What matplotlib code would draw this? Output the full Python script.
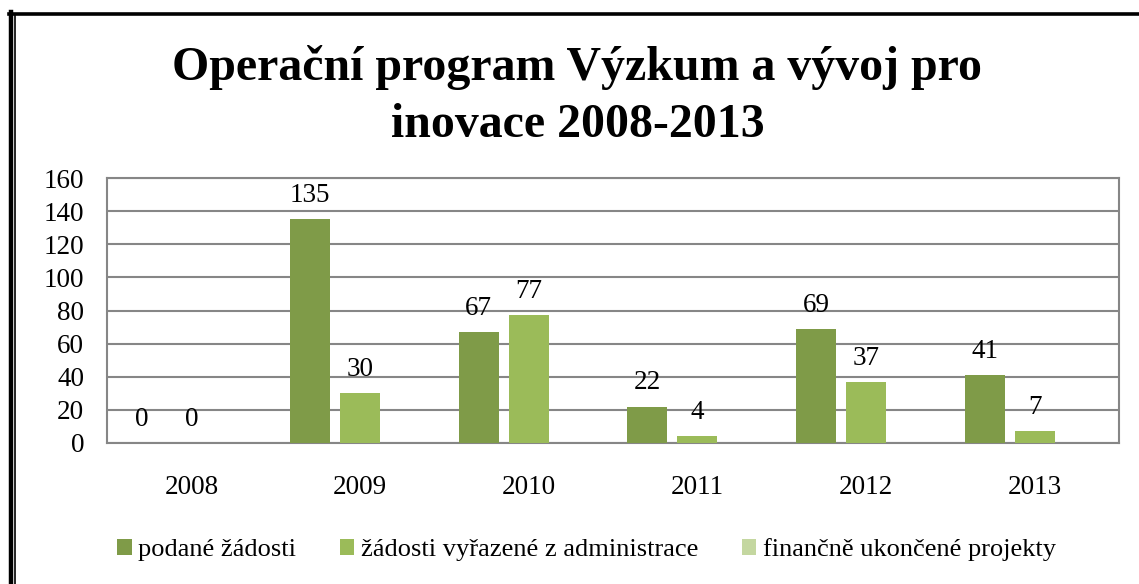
import numpy as np
import matplotlib
matplotlib.use('Agg')
import matplotlib.pyplot as plt
from matplotlib.lines import Line2D
from matplotlib.patches import Patch

years = ['2008', '2009', '2010', '2011', '2012', '2013']
podane = [0, 135, 67, 22, 69, 41]
vyrazene = [0, 30, 77, 4, 37, 7]
ukoncene = [np.nan] * 6  # no values shown in the chart

series_names = ['podané žádosti', 'žádosti vyřazené z administrace',
                'finančně ukončené projekty']
colors = ['#7F9B48', '#9BBB59', '#C4D7A0']
yticks = [0, 20, 40, 60, 80, 100, 120, 140, 160]
title_lines = ['Operační program Výzkum a vývoj pro', 'inovace 2008-2013']

plt.rcParams['font.family'] = ['Liberation Serif', 'DejaVu Serif']
FS = 19.5

W, H = 1139, 584
fig = plt.figure(figsize=(W / 100, H / 100), dpi=100)


def px(x0, y0, x1, y1):
    return [x0 / W, 1 - y1 / H, (x1 - x0) / W, (y1 - y0) / H]


ax = fig.add_axes(px(107, 178, 1119, 443))

x = np.arange(len(years))
slot = 0.296
bw = 0.237
all_series = [podane, vyrazene, ukoncene]
for i, (vals, c) in enumerate(zip(all_series, colors)):
    pos = x + (i - 1) * slot
    ax.bar(pos, vals, width=bw, color=c, zorder=3)
    for p, v in zip(pos, vals):
        if np.isnan(v):
            continue
        ax.annotate(f'{int(v)}', (p, v), xytext=(0, 8), textcoords='offset points',
                    ha='center', va='bottom', fontsize=FS, color='black')

ax.set_xlim(-0.5, len(years) - 0.5)
ax.set_ylim(0, 160)
ax.set_yticks(yticks)
ax.set_xticks(x)
ax.set_xticklabels(years)
ax.tick_params(axis='both', length=0, labelsize=FS)
ax.tick_params(axis='x', pad=23)
ax.tick_params(axis='y', pad=16.5)
ax.grid(axis='y', color='#868686', linewidth=1.5, zorder=0)
ax.set_axisbelow(True)
for sp in ax.spines.values():
    sp.set_color('#868686')
    sp.set_linewidth(1.5)

# two title lines placed on their own baselines
for line, base in zip(title_lines, [80, 137]):
    fig.text(0.507, 1 - base / H, line, ha='center', va='baseline',
             fontsize=34.5, fontweight='bold')

handles = [Patch(facecolor=c, edgecolor='none') for c in colors]
fig.legend(handles, series_names, loc='center', bbox_to_anchor=(0.515, 1 - 550 / H),
           ncol=3, frameon=False, fontsize=19, handlelength=0.55, handleheight=0.55,
           handletextpad=0.25, columnspacing=1.65)

# page frame (double line on the left, thick on top)
fig.add_artist(Line2D([11 / W, 11 / W], [0, 1 - 12 / H], color='black', linewidth=3.2))
fig.add_artist(Line2D([15.3 / W, 15.3 / W], [0, 1 - 15 / H], color='black', linewidth=1.2))
fig.add_artist(Line2D([9 / W, 1], [1 - 13.5 / H, 1 - 13.5 / H], color='black', linewidth=2.6))

fig.savefig('out.png', dpi=100)
